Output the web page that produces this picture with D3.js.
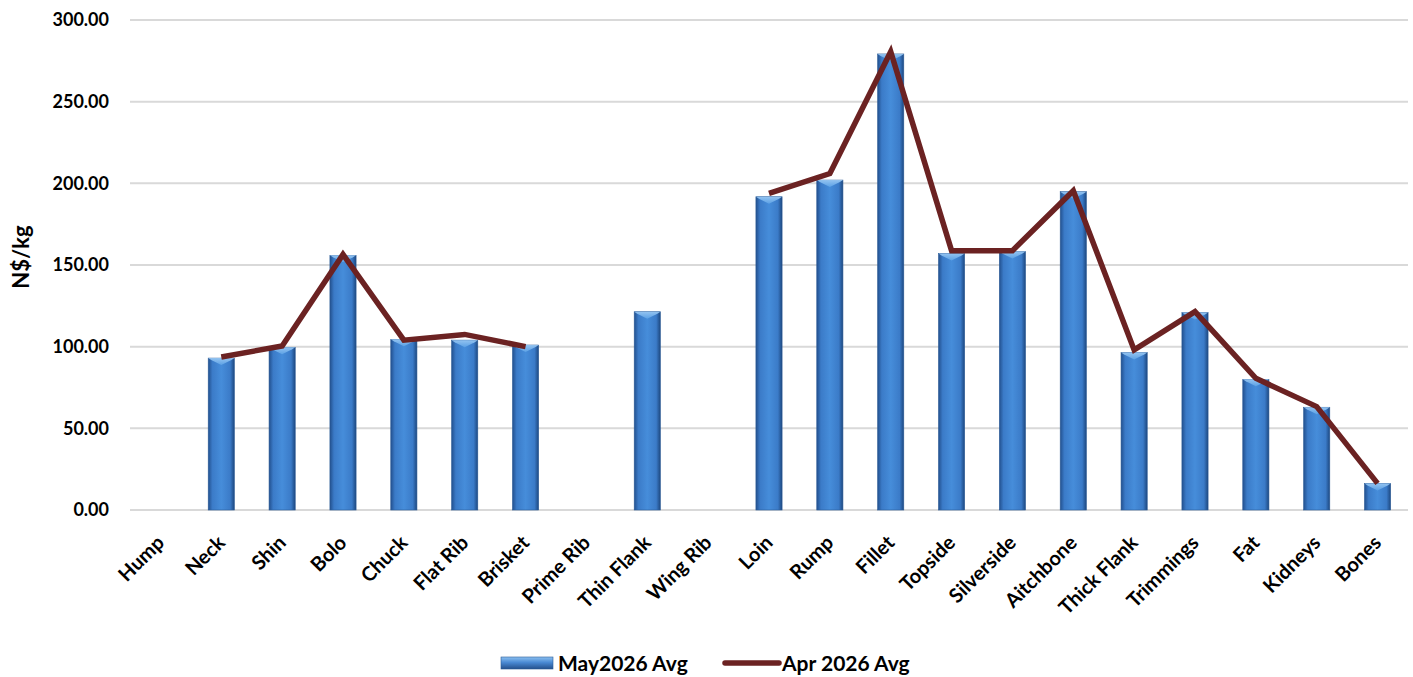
<!DOCTYPE html>
<html>
<head>
<meta charset="utf-8">
<script src="https://cdn.jsdelivr.net/npm/d3@7"></script>
<style>
  html, body { margin: 0; padding: 0; background: #fff; }
  svg { display: block; }
  text { font-family: Lato, "Open Sans", "DejaVu Sans", sans-serif; font-weight: 700; fill: #000; }
</style>
</head>
<body>
<svg id="chart" width="1413" height="677"></svg>
<script>
const categories = ["Hump","Neck","Shin","Bolo","Chuck","Flat Rib","Brisket","Prime Rib","Thin Flank","Wing Rib","Loin","Rump","Fillet","Topside","Silverside","Aitchbone","Thick Flank","Trimmings","Fat","Kidneys","Bones"];
const may2026 = [null, 93.0, 99.6, 155.9, 104.5, 104.0, 101.0, null, 121.4, null, 191.8, 202.0, 279.2, 157.1, 158.2, 194.9, 96.4, 120.9, 80.0, 62.9, 16.3];
const apr2026 = [null, 93.7, 100.4, 156.5, 104.0, 107.5, 100.0, null, null, null, 193.9, 206.0, 280.6, 158.8, 158.8, 195.5, 98.0, 121.5, 80.6, 63.3, 16.3];
const yTicks = [0, 50, 100, 150, 200, 250, 300];
const seriesNames = ["May2026 Avg", "Apr 2026 Avg"];

(function () {
const svg = d3.select("#chart");
const mLeft = 130, mRight = 1408, mTop = 20, mBottom = 510;

const x = d3.scaleBand().domain(categories).range([mLeft, mRight]).paddingInner(0).paddingOuter(0);
const y = d3.scaleLinear().domain([0, 300]).range([mBottom, mTop]);
const barW = x.bandwidth() * 0.43;

const defs = svg.append("defs");
const g1 = defs.append("linearGradient").attr("id", "barGrad").attr("x1", "0").attr("x2", "1").attr("y1", "0").attr("y2", "0");
g1.append("stop").attr("offset", "0%").attr("stop-color", "#22508e");
g1.append("stop").attr("offset", "16%").attr("stop-color", "#3b7bc8");
g1.append("stop").attr("offset", "50%").attr("stop-color", "#468dda");
g1.append("stop").attr("offset", "84%").attr("stop-color", "#3b7bc8");
g1.append("stop").attr("offset", "100%").attr("stop-color", "#1d4880");
const g2 = defs.append("linearGradient").attr("id", "bevelGrad").attr("x1", "0").attr("x2", "0").attr("y1", "0").attr("y2", "1");
g2.append("stop").attr("offset", "0%").attr("stop-color", "#9ccaf4");
g2.append("stop").attr("offset", "100%").attr("stop-color", "#5ea3e6");
const g3 = defs.append("linearGradient").attr("id", "legGrad").attr("x1", "0").attr("x2", "0").attr("y1", "0").attr("y2", "1");
g3.append("stop").attr("offset", "0%").attr("stop-color", "#8cc0f0");
g3.append("stop").attr("offset", "45%").attr("stop-color", "#4a8ad4");
g3.append("stop").attr("offset", "100%").attr("stop-color", "#24508c");

// gridlines
svg.append("g").selectAll("line").data(yTicks).join("line")
  .attr("x1", mLeft).attr("x2", mRight)
  .attr("y1", d => y(d)).attr("y2", d => y(d))
  .attr("stroke", "#d9d9d9").attr("stroke-width", 2);

// y axis labels
const yAxis = d3.axisLeft(y).tickValues(yTicks).tickFormat(d3.format(".2f")).tickSize(0).tickPadding(0);
const ya = svg.append("g").attr("transform", `translate(${mLeft - 21},0)`).call(yAxis);
ya.select(".domain").remove();
ya.selectAll("text").style("font-size", "18px").style("font-family", "Lato, 'Open Sans', sans-serif").style("font-weight", 700).attr("fill", "#000");

svg.append("text").attr("transform", `translate(29,${257}) rotate(-90)`)
  .attr("text-anchor", "middle").style("font-size", "22px").text("N$/kg");

// bars
const barData = categories.map((c, i) => ({c, v: may2026[i]})).filter(d => d.v != null && d.v > 0);
const bars = svg.append("g");
bars.selectAll("rect").data(barData).join("rect")
  .attr("x", d => x(d.c) + x.bandwidth() / 2 - barW / 2)
  .attr("width", barW)
  .attr("y", d => y(d.v))
  .attr("height", d => y(0) - y(d.v))
  .attr("fill", "url(#barGrad)")
  .attr("stroke", "#2a5a96").attr("stroke-width", 0.6);
bars.selectAll("path.bevel").data(barData).join("path").attr("class", "bevel")
  .attr("d", d => {
    const x0 = x(d.c) + x.bandwidth() / 2 - barW / 2, x1 = x0 + barW, yt = y(d.v);
    const h = 5;
    return `M${x0},${yt}L${x1},${yt}L${x1 - 3},${yt + 2}L${(x0 + x1) / 2},${yt + h + 2}L${x0 + 3},${yt + 2}Z`;
  })
  .attr("fill", "url(#bevelGrad)").attr("opacity", 0.9);

// line
const line = d3.line()
  .defined((d) => d.v != null)
  .x(d => x(d.c) + x.bandwidth() / 2)
  .y(d => y(d.v));
svg.append("path")
  .datum(categories.map((c, i) => ({c, v: apr2026[i]})))
  .attr("d", line)
  .attr("fill", "none").attr("stroke", "#6b2222").attr("stroke-width", 5.5)
  .attr("stroke-linejoin", "miter").attr("stroke-linecap", "butt");

// x labels
svg.append("g").selectAll("text").data(categories).join("text")
  .attr("transform", d => `translate(${x(d) + x.bandwidth() / 2 + 5},${mBottom + 34}) rotate(-45)`)
  .attr("text-anchor", "end")
  .style("font-size", "20px")
  .text(d => d);

// legend
const leg = svg.append("g");
leg.append("rect").attr("x", 501).attr("y", 657).attr("width", 52).attr("height", 12)
  .attr("fill", "url(#legGrad)").attr("stroke", "#2a5a96").attr("stroke-width", 0.6);
leg.append("text").attr("x", 558).attr("y", 671).style("font-size", "21px").text(seriesNames[0]);
leg.append("line").attr("x1", 725).attr("x2", 779).attr("y1", 663).attr("y2", 663)
  .attr("stroke", "#6b2222").attr("stroke-width", 5.5).attr("stroke-linecap", "round");
leg.append("text").attr("x", 782).attr("y", 671).style("font-size", "21px").text(seriesNames[1]);
})();
</script>
</body>
</html>
